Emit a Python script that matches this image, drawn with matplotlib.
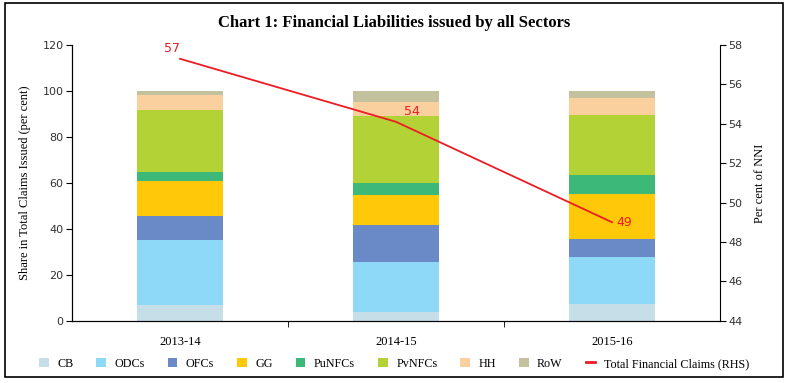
import matplotlib
matplotlib.use("Agg")
import matplotlib.pyplot as plt
import numpy as np
from matplotlib.patches import Rectangle

# ================================
# Dados
# ================================
years = ['2013-14', '2014-15', '2015-16']
sectors = ['CB', 'ODCs', 'OFCs', 'GG', 'PuNFCs', 'PvNFCs', 'HH', 'RoW']
CB = [6.7, 3.8, 7.3]
ODCs = [28.4, 21.9, 20.6]
OFCs = [10.5, 15.8, 7.8]
GG = [15.2, 13.2, 19.6]
PuNFCs = [3.9, 5.2, 8.1]
PvNFCs = [27.0, 29.2, 26.3]
HH = [6.4, 6.1, 7.1]
RoW = [2.0, 4.8, 3.2]
total_claims = [57.3, 54.1, 49.0]  # per cent of NNI (RHS)

colors = ['#C6DEE8', '#8ED8F8', '#6A8AC7', '#FFC90A',
          '#3CB878', '#B2D235', '#FBD09F', '#C4C19F']
red = '#ED1C24'

serif = 'Liberation Serif'
sans = 'DejaVu Sans'

fig = plt.figure(figsize=(7.88, 3.83), dpi=100)
ax = fig.add_axes([0.0914, 0.1627, 0.8223, 0.7198])
ax2 = ax.twinx()

x = np.arange(len(years))
bottom = np.zeros(len(years))
series = [CB, ODCs, OFCs, GG, PuNFCs, PvNFCs, HH, RoW]
handles = []
for name, vals, c in zip(sectors, series, colors):
    h = ax.bar(x, vals, width=0.4, bottom=bottom, color=c, label=name, linewidth=0)
    handles.append(h)
    bottom += np.array(vals)

ln, = ax2.plot(x, total_claims, color=red, lw=1.3, label='Total Financial Claims (RHS)')
offsets = [(-6, 3, 'center', 'bottom'), (6, 3, 'left', 'bottom'), (3, 0, 'left', 'center')]
for xi, v, (dx, dy, ha, va) in zip(x, total_claims, offsets):
    ax2.annotate(f'{v:.0f}', (xi, v), xytext=(dx, dy), textcoords='offset points',
                 color=red, fontsize=9, family=sans, ha=ha, va=va)

# Eixos
ax.set_xlim(-0.5, 2.5)
ax.set_ylim(0, 120)
ax.set_yticks(np.arange(0, 121, 20))
ax2.set_ylim(44, 58)
ax2.set_yticks(np.arange(44, 59, 2))

ax.set_xticks(x)
ax.set_xticklabels(years, family=serif, fontsize=9)
ax.set_xticks([0.5, 1.5], minor=True)
ax.tick_params(axis='x', which='major', length=0, pad=11)
ax.tick_params(axis='x', which='minor', length=4, direction='out')
for t in ax.get_yticklabels() + ax2.get_yticklabels():
    t.set_family(sans)
    t.set_fontsize(8)
    t.set_color('#333333')
ax.tick_params(axis='y', length=4, direction='out', pad=2)
ax2.tick_params(axis='y', length=4, direction='out', pad=2)

for a in (ax, ax2):
    a.spines['top'].set_visible(False)
ax.spines['right'].set_visible(False)

ax.set_ylabel('Share in Total Claims Issued (per cent)', family=serif, fontsize=9, labelpad=8)
ax2.set_ylabel('Per cent of NNI', family=serif, fontsize=9, labelpad=8)

fig.text(0.5, 0.94, 'Chart 1: Financial Liabilities issued by all Sectors',
         ha='center', va='center', family=serif, fontweight='bold', fontsize=12)

leg = fig.legend(handles + [ln], sectors + ['Total Financial Claims (RHS)'],
                 loc='center', bbox_to_anchor=(0.5, 0.05), ncol=9, frameon=False,
                 prop={'family': serif, 'size': 8.7}, handlelength=0.8, handleheight=0.8,
                 handletextpad=0.7, columnspacing=1.9)
leg.legend_handles[-1].set_linewidth(2)

# Moldura
fig.patches.append(Rectangle((0.006, 0.015), 0.988, 0.977, transform=fig.transFigure,
                             fill=False, edgecolor='black', lw=1.2))

plt.savefig('out.png', dpi=100)
